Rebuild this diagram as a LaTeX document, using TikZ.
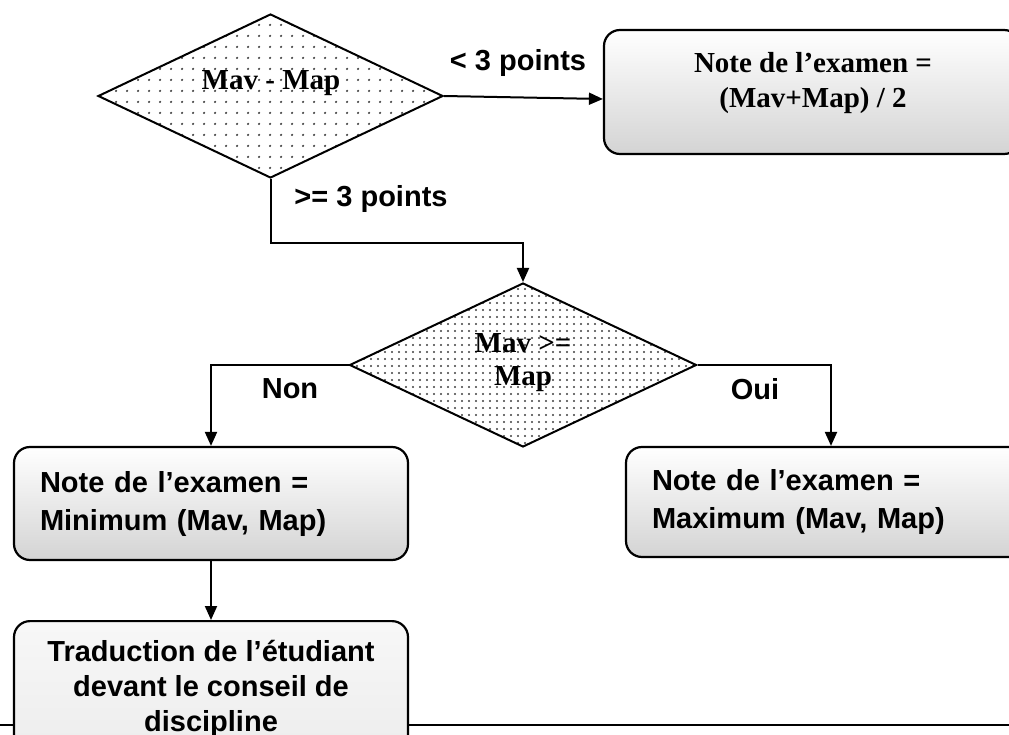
\documentclass[tikz,border=0pt]{standalone}
\usepackage{fontspec}
\setmainfont{Liberation Serif}
\newfontfamily\arialfont{Liberation Sans}
\usetikzlibrary{shapes.geometric,arrows.meta,patterns.meta}
\begin{document}
\begin{tikzpicture}[x=1pt,y=-1pt,
  conn/.style={line width=2pt, -{Triangle[length=14pt,width=12pt]}},
  box/.style={draw, line width=2.2pt, rounded corners=16pt, top color=white, bottom color=black!17, inner sep=0pt},
  dec/.style={draw, line width=2pt, diamond, inner sep=0pt, aspect=2},
  sf/.style={font=\arialfont\bfseries\fontsize{29}{38}\selectfont, inner sep=0pt},
  rm/.style={font=\bfseries\fontsize{29}{35}\selectfont, inner sep=0pt},
]
\useasboundingbox (0,0) rectangle (1009,735);
\clip (0,0) rectangle (1009,735);
\fill[white] (0,0) rectangle (1009,735);
% bottom rule
\coordinate (hl) at (0,725);
\coordinate (hr) at (1009,725);
\draw[line width=2.2pt] (hl) -- (hr);

% decisions
\node[dec, minimum width=345pt, minimum height=164pt,
      pattern={Dots[distance=10.5pt,radius=1.3pt]}, pattern color=black!75] (d1) at (270.5,96) {};
\node[rm] (d1t) at (271,83) {Mav - Map};

\node[dec, minimum width=347pt, minimum height=164pt,
      pattern={Dots[distance=6.5pt,radius=1.2pt]}, pattern color=black!75] (d2) at (523,365) {};
\node[rm, align=center, font=\bfseries\fontsize{29}{33}\selectfont] (d2t) at (523,363) {Mav >=\\Map};

% boxes
\node[box, minimum width=416pt, minimum height=124pt] (b1) at (812,92) {};
\node[rm, align=center] (b1t) at (813,83) {Note de l’examen =\\(Mav+Map) / 2};

\node[box, sf, minimum width=394pt, minimum height=113pt, text width=342pt, align=left] (b2) at (211,503.5) {Note de l’examen =\\Minimum (Mav, Map)};

\node[box, sf, minimum width=410pt, minimum height=110pt, text width=358pt, align=left] (b3) at (831,502) {Note de l’examen =\\Maximum (Mav, Map)};

\node[box, top color=black!3, bottom color=black!8, minimum width=394pt, minimum height=160pt, anchor=north] (b4) at (211,620) {};
\node[sf, align=center, font=\arialfont\bfseries\fontsize{29}{35}\selectfont] (b4t) at (211,689) {Traduction de l’étudiant\\devant le conseil de\\discipline};

% connectors
\draw[conn] (d1.east) -- ([yshift=-7pt]b1.west);
\draw[conn] (d1.south) -- ++(0,64) -| (d2.north);
\draw[conn] (d2.west) -| (b2.north);
\draw[conn] (d2.east) -| (b3.north);
\draw[conn] (b2.south) -- (b4.north);

% labels
\node[sf] (l1) at (518,63) {< 3 points};
\node[sf] (l2) at (371,199) {>= 3 points};
\node[sf] (l3) at (290,389) {Non};
\node[sf] (l4) at (755,389) {Oui};
\end{tikzpicture}
\end{document}
